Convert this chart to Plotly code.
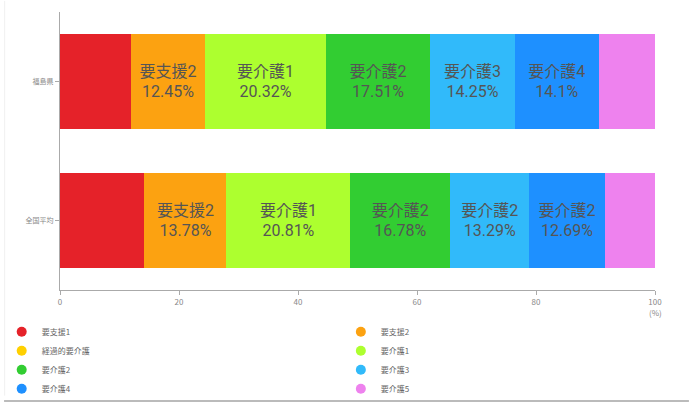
import plotly.graph_objects as go

# ---- data ----
regions = ["福島県", "全国平均"]
series = ["要支援1", "要支援2", "経過的要介護", "要介護1", "要介護2", "要介護3", "要介護4", "要介護5"]
colors = ["#E52229", "#FCA211", "#FFD000", "#ADFF2F", "#32CD32", "#31BAFA", "#1E90FF", "#EE82EE"]
values = {
    "要支援1":     [11.92, 14.20],
    "要支援2":     [12.45, 13.78],
    "経過的要介護": [0.0, 0.0],
    "要介護1":     [20.32, 20.81],
    "要介護2":     [17.51, 16.78],
    "要介護3":     [14.25, 13.29],
    "要介護4":     [14.10, 12.69],
    "要介護5":     [9.45, 8.45],
}
# label names as printed on the bars (None = no label)
bar_label_names = {
    "要支援1":     [None, None],
    "要支援2":     ["要支援2", "要支援2"],
    "経過的要介護": [None, None],
    "要介護1":     ["要介護1", "要介護1"],
    "要介護2":     ["要介護2", "要介護2"],
    "要介護3":     ["要介護3", "要介護2"],
    "要介護4":     ["要介護4", "要介護2"],
    "要介護5":     [None, None],
}
x_ticks = [0, 20, 40, 60, 80, 100]

FONT = "Noto Sans CJK JP, Noto Sans, sans-serif"
LABEL_FONT = "Roboto, Noto Sans CJK JP, sans-serif"

fig = go.Figure()
for i, (name, col) in enumerate(zip(series, colors)):
    vals = values[name]
    labels = []
    for v, ln in zip(vals, bar_label_names[name]):
        labels.append("" if ln is None else f"{ln}<br>{v:g}%")
    fig.add_trace(go.Bar(
        y=regions, x=vals, name=name, orientation="h",
        marker=dict(color=col, line=dict(width=0)),
        text=labels, textposition="inside", insidetextanchor="middle",
        textfont=dict(size=16, color="#555555", family=LABEL_FONT),
        showlegend=False, hoverinfo="x+name",
    ))
    # legend entry with circular marker (two-column legend: left / right)
    fig.add_trace(go.Scatter(
        x=[None], y=[None], mode="markers", name=name,
        marker=dict(color=col, size=10, symbol="circle"),
        showlegend=True, legend="legend" if i % 2 == 0 else "legend2",
    ))

fig.add_annotation(text="(%)", x=100, y=0, xref="x", yref="paper",
                   xanchor="center", yanchor="top", yshift=-15, showarrow=False,
                   font=dict(size=8, color="#888888", family=FONT))

# card edges
fig.add_shape(type="line", xref="paper", yref="paper", layer="below",
              x0=-0.094, x1=1.057, y0=-0.399, y1=-0.399,
              line=dict(color="#BBBBBB", width=2))
fig.add_shape(type="line", xref="paper", yref="paper", layer="below",
              x0=-0.093, x1=-0.093, y0=-0.38, y1=1.04,
              line=dict(color="#F0F0F0", width=1))

legend_common = dict(orientation="v", yanchor="top", xanchor="left",
                     itemwidth=30, bgcolor="rgba(0,0,0,0)",
                     font=dict(size=8, color="#666666", family=FONT),
                     tracegroupgap=0, traceorder="normal")

fig.update_layout(
    width=689, height=403,
    margin=dict(l=60, r=34, t=12, b=113, autoexpand=False),
    barmode="stack", bargap=0.31,
    plot_bgcolor="white", paper_bgcolor="white",
    font=dict(family=FONT, size=8, color="#888888"),
    legend=dict(x=-0.098, y=-0.098, **legend_common),
    legend2=dict(x=0.472, y=-0.098, **legend_common),
    xaxis=dict(range=[0, 100], tickvals=x_ticks, showgrid=False, zeroline=False,
               showline=True, linecolor="#AAAAAA", linewidth=1,
               ticks="outside", ticklen=4, tickcolor="#AAAAAA",
               tickfont=dict(size=8, color="#888888")),
    yaxis=dict(autorange="reversed", showgrid=False, zeroline=False,
               showline=True, linecolor="#AAAAAA", linewidth=1,
               ticks="outside", ticklen=4, tickcolor="#AAAAAA",
               tickfont=dict(size=7, color="#888888")),
)

fig.write_html("out.html")
